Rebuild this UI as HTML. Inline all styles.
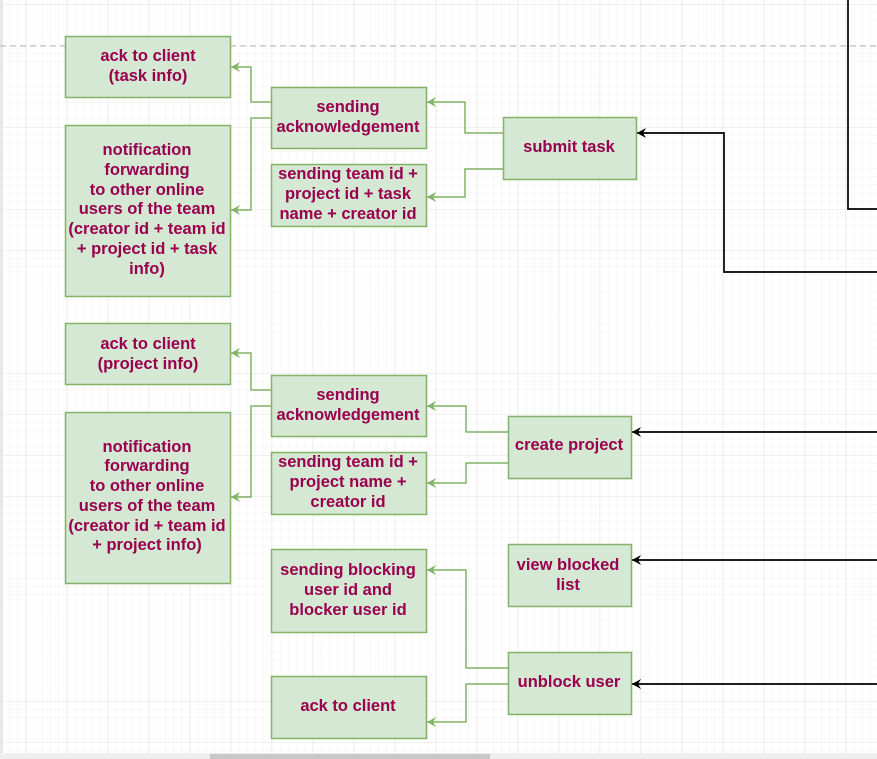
<!DOCTYPE html>
<html><head><meta charset="utf-8"><style>
html,body{margin:0;padding:0;background:#fff;}
svg{display:block;}
text{font-family:"Liberation Sans",Arial,sans-serif;font-weight:bold;font-size:16.5px;fill:#99004D;text-anchor:middle;}
</style></head><body>
<svg width="877" height="759" viewBox="0 0 877 759" xmlns="http://www.w3.org/2000/svg">
<defs>
<pattern id="minor" x="25.7" y="4" width="8.2" height="8.2" patternUnits="userSpaceOnUse">
<path d="M0 0H8.2M0 0V8.2" stroke="#f1f1f1" stroke-width="1" fill="none"/>
</pattern>
<pattern id="major" x="25.7" y="4" width="41" height="41" patternUnits="userSpaceOnUse">
<path d="M0 0H41M0 0V41" stroke="#e0e0e0" stroke-width="1" fill="none"/>
</pattern>
<marker id="ag" markerWidth="10" markerHeight="10" refX="9" refY="5" orient="auto" markerUnits="userSpaceOnUse">
<path d="M9 5 L0 0 L3 5 L0 10 Z" fill="#82b366"/>
</marker>
<marker id="ak" markerWidth="10" markerHeight="10" refX="9" refY="5" orient="auto" markerUnits="userSpaceOnUse">
<path d="M9 5 L0 0 L3 5 L0 10 Z" fill="#000"/>
</marker>
</defs>
<rect width="877" height="759" fill="#fff"/>
<rect width="877" height="759" fill="url(#minor)"/>
<rect width="877" height="759" fill="url(#major)"/>
<rect x="0" y="0" width="3" height="759" fill="#e8e8e8"/>
<rect x="0" y="753" width="877" height="6" fill="#efefef"/>
<rect x="210" y="754" width="280" height="5" fill="#c8c8c8"/>
<line x1="0" y1="46" x2="877" y2="46" stroke="#c0c0c0" stroke-dasharray="6,4" stroke-width="1.3"/>

<g fill="none" stroke="#000" stroke-width="1.7">
<path d="M848 0V209H877"/>
<path d="M877 272H724V133H637" marker-end="url(#ak)"/>
<path d="M877 432H632" marker-end="url(#ak)"/>
<path d="M877 560H632" marker-end="url(#ak)"/>
<path d="M877 684H632" marker-end="url(#ak)"/>
</g>

<g fill="none" stroke="#82b366" stroke-width="1.5">
<path d="M503 133H465V102H427" marker-end="url(#ag)"/>
<path d="M503 169H465V197H427" marker-end="url(#ag)"/>
<path d="M271 102H251V67H231" marker-end="url(#ag)"/>
<path d="M271 118H251V210H231" marker-end="url(#ag)"/>
<path d="M508 432H466V406H427" marker-end="url(#ag)"/>
<path d="M508 463H466V483H427" marker-end="url(#ag)"/>
<path d="M271 390H251V353H231" marker-end="url(#ag)"/>
<path d="M271 406H251V497H231" marker-end="url(#ag)"/>
<path d="M508 668H466V570H427" marker-end="url(#ag)"/>
<path d="M508 684H466V722H427" marker-end="url(#ag)"/>
</g>

<g fill="#d5e8d4" stroke="#82b366" stroke-width="1.5">
<rect x="65.5" y="36.5" width="165" height="61"/>
<rect x="65.5" y="125.5" width="165" height="171"/>
<rect x="271.5" y="87.5" width="155" height="61"/>
<rect x="271.5" y="164.5" width="155" height="62"/>
<rect x="503.5" y="117.5" width="133" height="62"/>
<rect x="65.5" y="323.5" width="165" height="61"/>
<rect x="65.5" y="412.5" width="165" height="171"/>
<rect x="271.5" y="375.5" width="155" height="61"/>
<rect x="271.5" y="452.5" width="155" height="62"/>
<rect x="508.5" y="416.5" width="123" height="62"/>
<rect x="508.5" y="544.5" width="123" height="62"/>
<rect x="508.5" y="652.5" width="123" height="62"/>
<rect x="271.5" y="549.5" width="155" height="83"/>
<rect x="271.5" y="676.5" width="155" height="62"/>
</g>

<text x="148" y="61">ack to client</text>
<text x="148" y="81">(task info)</text>
<text x="147" y="155">notification</text>
<text x="147" y="175">forwarding</text>
<text x="147" y="195">to other online</text>
<text x="147" y="214">users of the team</text>
<text x="147" y="234">(creator id + team id</text>
<text x="147" y="254">+ project id + task</text>
<text x="147" y="274">info)</text>
<text x="348" y="112">sending</text>
<text x="348" y="132">acknowledgement</text>
<text x="348" y="179">sending team id +</text>
<text x="348" y="199">project id + task</text>
<text x="348" y="219">name + creator id</text>
<text x="569" y="152">submit task</text>

<text x="148" y="349">ack to client</text>
<text x="148" y="369">(project info)</text>
<text x="147" y="452">notification</text>
<text x="147" y="471">forwarding</text>
<text x="147" y="491">to other online</text>
<text x="147" y="511">users of the team</text>
<text x="147" y="531">(creator id + team id</text>
<text x="147" y="550">+ project info)</text>
<text x="348" y="400">sending</text>
<text x="348" y="420">acknowledgement</text>
<text x="348" y="467">sending team id +</text>
<text x="348" y="487">project name +</text>
<text x="348" y="507">creator id</text>
<text x="569" y="450">create project</text>
<text x="568" y="570">view blocked</text>
<text x="568" y="590">list</text>
<text x="569" y="687">unblock user</text>
<text x="348" y="575">sending blocking</text>
<text x="348" y="595">user id and</text>
<text x="348" y="615">blocker user id</text>
<text x="348" y="711">ack to client</text>
</svg>
</body></html>
